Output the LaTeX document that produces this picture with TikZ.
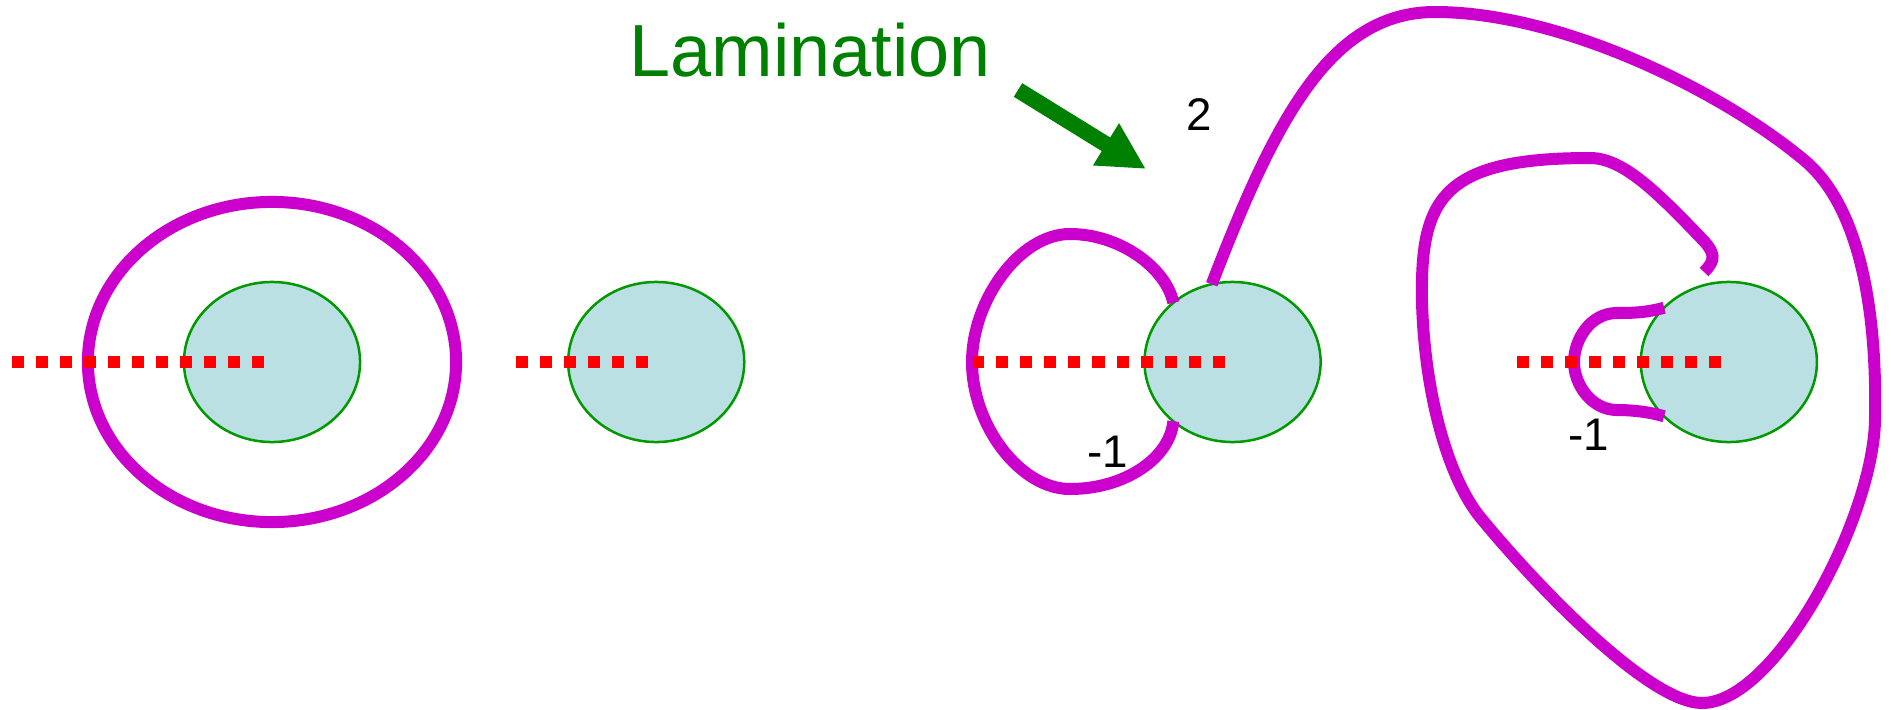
\documentclass[tikz,border=0pt]{standalone}
\usepackage{fontspec}
\setmainfont{Liberation Sans}
\usetikzlibrary{positioning,shapes.geometric}
\usepgflibrary{arrows.meta}
\definecolor{lamcol}{HTML}{CC00CC}
\definecolor{diskfill}{HTML}{BBE0E3}
\definecolor{diskline}{HTML}{009900}
\definecolor{labgreen}{HTML}{008000}

\begin{document}
\begin{tikzpicture}
    [x=0.01cm, y=-0.01cm,
    disk/.style={ellipse, draw=diskline, fill=diskfill, line width=0.025cm,
        minimum width=1.76cm, minimum height=1.6cm, inner sep=0pt, outer sep=0pt},
    lam/.style={draw=lamcol, line width=0.12cm},
    cut/.style={draw=red, line width=0.12cm, dash pattern=on 0.12cm off 0.12cm},
    num/.style={font=\fontsize{13}{15}\selectfont, anchor=base, inner sep=0pt}]
        \useasboundingbox (0,0) rectangle (1891,709);
        %% Disks
        \node[disk] (D1) at (272,362) {};
        \node[disk, right=2.08cm of D1] (D2) {};
        \node[disk, right=4cm of D2] (D3) {};
        \node[disk, right=3.2cm of D3] (D4) {};

        %% Laminations
        \draw[lam] (D1.center) ellipse [x radius=1.84cm, y radius=1.6cm];
        \draw[lam] (D3.135) .. controls (1166,268) and (1120,234) .. (1070,234)
            .. controls (1020,234) and (972,300) .. (972,362)
            .. controls (972,425) and (1020,489) .. (1070,489)
            .. controls (1125,489) and (1170,458) .. (D3.225);
        \draw[lam] (D3.105) .. controls (1275,120) and (1330,12) .. (1435,12)
            .. controls (1560,12) and (1720,90) .. (1804,160)
            .. controls (1863,209) and (1877,320) .. (1875,420)
            .. controls (1873,520) and (1775,703) .. (1702,703)
            .. controls (1650,703) and (1540,590) .. (1480,517)
            .. controls (1450,480) and (1425,400) .. (1422,303)
            .. controls (1420,200) and (1440,158) .. (1590,158)
            .. controls (1622,158) and (1655,190) .. (1700,237)
            .. controls (1716,253) and (1716,260) .. (1704,272);
        \draw[lam] (D4.140) .. controls (1645,313) and (1630,313) .. (1617,313)
            .. controls (1590,313) and (1574,340) .. (1574,362)
            .. controls (1574,385) and (1592,410) .. (1617,410)
            .. controls (1632,410) and (1650,412) .. (D4.220);

        %% Cuts
        \draw[cut] ([xshift=-0.08cm]D1.center) -- ++(-252,0);
        \draw[cut] ([xshift=-0.08cm]D2.center) -- ++(-132,0);
        \draw[cut] ([xshift=-0.08cm]D3.center) -- ++(-252,0);
        \draw[cut] ([xshift=-0.08cm]D4.center) -- ++(-204,0);

        %% Labels
        \node[num] (N2) at (1199,130) {2};
        \node[num] (N3) at (1108,467) {-1};
        \node[num] (N4) at (1589,450) {-1};
        \node[anchor=base, inner sep=0pt, text=labgreen,
            font=\fontsize{21}{25}\selectfont] (L) at (810,76) {Lamination};
        \coordinate (A) at (1018,90);
        \coordinate (B) at (1146,169);
        \draw[labgreen, line width=0.16cm,
            -{Triangle[length=0.47cm, width=0.46cm]}] (A) -- (B);
    \end{tikzpicture}
\end{document}
